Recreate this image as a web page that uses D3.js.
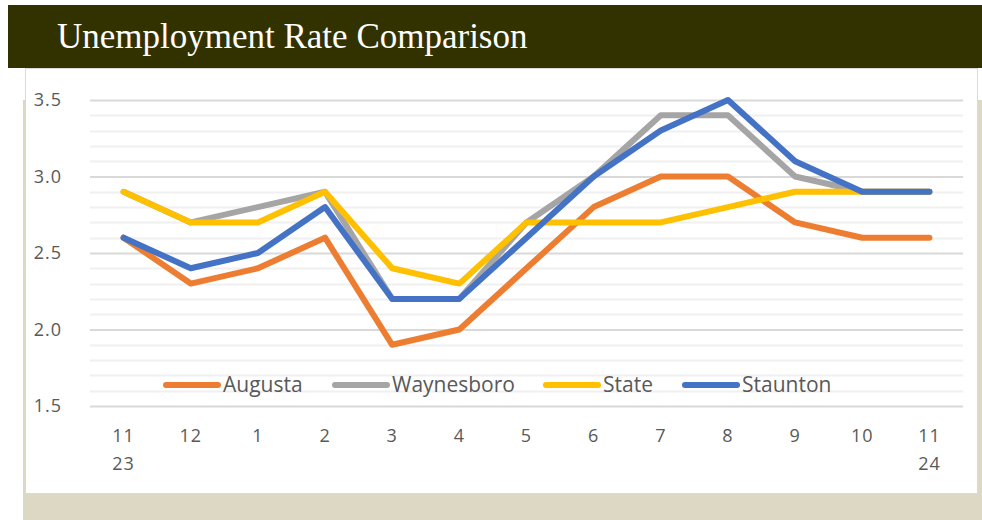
<!DOCTYPE html>
<html>
<head>
<meta charset="utf-8">
<script src="https://cdn.jsdelivr.net/npm/d3@7"></script>
<style>
  body { margin: 0; background: #fff; }
  svg { display: block; }
</style>
</head>
<body>
<div id="chart"></div>
<script>
const months = ["11", "12", "1", "2", "3", "4", "5", "6", "7", "8", "9", "10", "11"];
const years = ["23", "", "", "", "", "", "", "", "", "", "", "", "24"];

const augusta    = [2.6, 2.3, 2.4, 2.6, 1.9, 2.0, 2.4, 2.8, 3.0, 3.0, 2.7, 2.6, 2.6];
const waynesboro = [2.9, 2.7, 2.8, 2.9, 2.2, 2.2, 2.7, 3.0, 3.4, 3.4, 3.0, 2.9, 2.9];
const state      = [2.9, 2.7, 2.7, 2.9, 2.4, 2.3, 2.7, 2.7, 2.7, 2.8, 2.9, 2.9, 2.9];
const staunton   = [2.6, 2.4, 2.5, 2.8, 2.2, 2.2, 2.6, 3.0, 3.3, 3.5, 3.1, 2.9, 2.9];

const seriesNames = ["Augusta", "Waynesboro", "State", "Staunton"];
const seriesColors = ["#ED7D31", "#A5A5A5", "#FFC000", "#4472C4"];
const yTicks = [1.5, 2.0, 2.5, 3.0, 3.5];

const series = [augusta, waynesboro, state, staunton].map((values, i) => ({
  name: seriesNames[i],
  color: seriesColors[i],
  values: values
}));

const W = 982, H = 520;
const plot = { left: 90, right: 963, top: 100, bottom: 406 };
const labelFont = "'Open Sans', sans-serif";

const svg = d3.select("#chart").append("svg")
  .attr("width", W)
  .attr("height", H);

// page frame: beige strip, white panel, title band
svg.append("rect").attr("x", 23).attr("y", 100).attr("width", W - 23).attr("height", H - 100)
  .attr("fill", "#ddd8c4");
svg.append("rect").attr("x", 25.5).attr("y", 68.5).attr("width", 952).attr("height", 425)
  .attr("fill", "#fff").attr("stroke", "#d9d9d9").attr("stroke-width", 1);
svg.append("rect").attr("x", 8).attr("y", 5).attr("width", W - 8).attr("height", 63)
  .attr("fill", "#323200");
svg.append("text")
  .attr("x", 57).attr("y", 48)
  .attr("fill", "#fff")
  .style("font-family", "'Liberation Serif', 'DejaVu Serif', serif")
  .style("font-size", "35px")
  .text("Unemployment Rate Comparison");

const x = d3.scaleBand()
  .domain(d3.range(months.length))
  .range([plot.left, plot.right]);

const y = d3.scaleLinear()
  .domain([1.5, 3.5])
  .range([plot.bottom, plot.top]);

// minor gridlines every 0.1
const minor = d3.range(15, 36).map(v => v / 10).filter(v => !yTicks.some(t => Math.abs(t - v) < 1e-9));
svg.append("g")
  .selectAll("line")
  .data(minor)
  .join("line")
  .attr("x1", plot.left).attr("x2", plot.right)
  .attr("y1", d => Math.round(y(d)) + 0.5).attr("y2", d => Math.round(y(d)) + 0.5)
  .attr("stroke", "#f0f0f0")
  .attr("stroke-width", 2);

// y axis with major gridlines
const yAxis = svg.append("g")
  .attr("transform", `translate(${plot.left},0)`)
  .call(d3.axisLeft(y).tickValues(yTicks).tickFormat(d3.format(".1f"))
    .tickSize(-(plot.right - plot.left)).tickPadding(28));
yAxis.select(".domain").remove();
yAxis.selectAll(".tick line").attr("stroke", "#d9d9d9").attr("stroke-width", 2);
yAxis.selectAll(".tick text")
  .attr("fill", "#595959")
  .style("font-family", labelFont)
  .style("font-size", "18px")
  .style("letter-spacing", "1px");

// x axis labels (two lines)
const xAxis = svg.append("g")
  .attr("transform", `translate(0,${plot.bottom})`)
  .call(d3.axisBottom(x).tickFormat(i => months[i]).tickSize(0).tickPadding(23));
xAxis.select(".domain").remove();
xAxis.selectAll(".tick text")
  .attr("fill", "#595959")
  .style("font-family", labelFont)
  .style("font-size", "18px")
  .style("letter-spacing", "1px");
xAxis.selectAll(".tick").append("text")
  .attr("y", 51)
  .attr("dy", "0.71em")
  .attr("fill", "#595959")
  .style("font-family", labelFont)
  .style("font-size", "18px")
  .style("letter-spacing", "1px")
  .text(i => years[i]);

const line = d3.line()
  .x((d, i) => x(i) + x.bandwidth() / 2)
  .y(d => y(d));

svg.append("g")
  .selectAll("path")
  .data(series)
  .join("path")
  .attr("fill", "none")
  .attr("stroke", d => d.color)
  .attr("stroke-width", 6)
  .attr("stroke-linejoin", "round")
  .attr("stroke-linecap", "round")
  .attr("d", d => line(d.values));

// legend
const legendX = [163, 332, 543, 682];
const legend = svg.append("g")
  .selectAll("g")
  .data(series)
  .join("g")
  .attr("transform", (d, i) => `translate(${legendX[i]},385)`);
legend.append("line")
  .attr("x1", 3).attr("x2", 55)
  .attr("stroke", d => d.color)
  .attr("stroke-width", 6)
  .attr("stroke-linecap", "round");
legend.append("text")
  .attr("x", 60)
  .attr("dy", "0.35em")
  .attr("fill", "#595959")
  .style("font-family", labelFont)
  .style("font-size", "21px")
  .text(d => d.name);
</script>
</body>
</html>
